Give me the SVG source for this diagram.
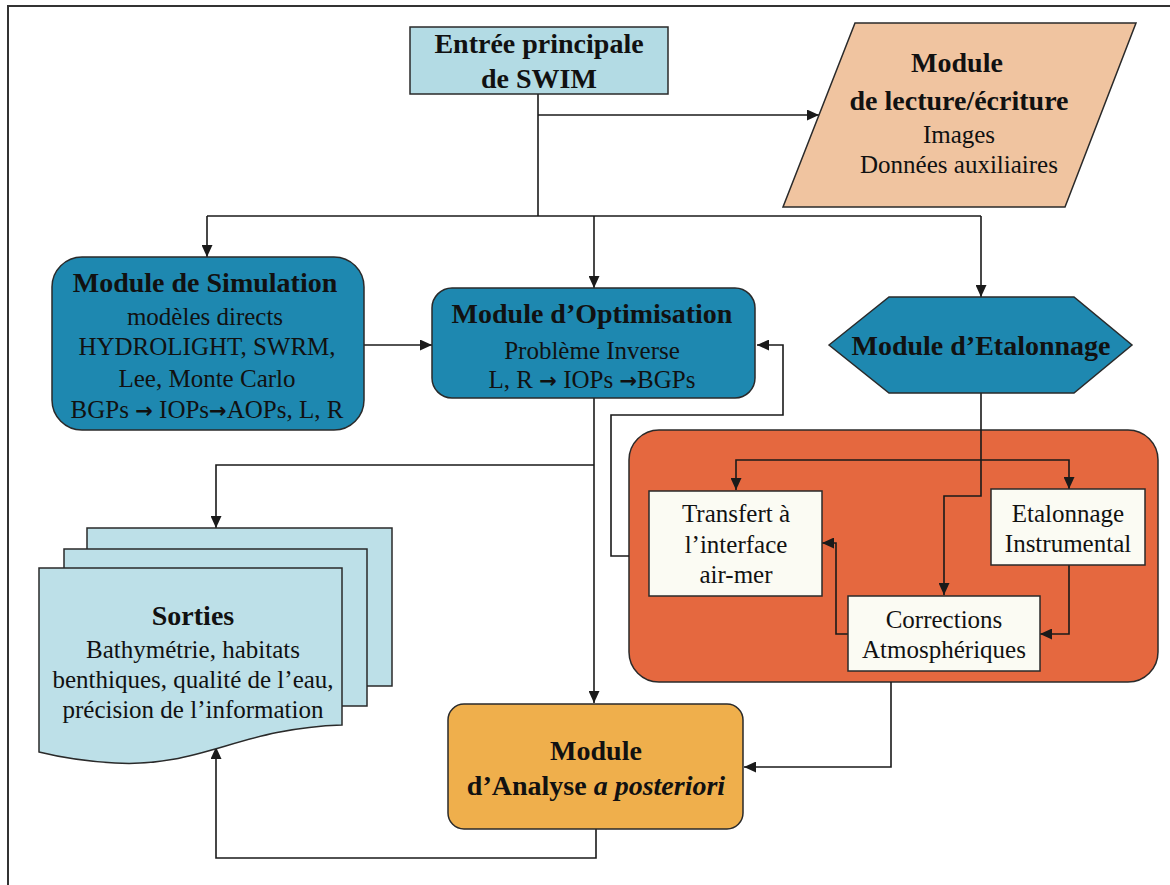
<svg xmlns="http://www.w3.org/2000/svg" width="1170" height="885" viewBox="0 0 1170 885">
<defs>
<marker id="arr" markerUnits="userSpaceOnUse" markerWidth="13" markerHeight="11" refX="12" refY="5.5" orient="auto">
<path d="M0,0 L12,5.5 L0,11 z" fill="#1a1a1a"/>
</marker>
<style>
.box{stroke:#2a2a2a;stroke-width:1.5}
.con{fill:none;stroke:#1a1a1a;stroke-width:1.6}
.arrow{marker-end:url(#arr)}
</style>
</defs>
<rect width="1170" height="885" fill="#ffffff"/>
<path d="M8,885 V6 H1170" fill="none" stroke="#333" stroke-width="2"/>

<g id="container-etalonnage">
<rect class="box" x="629" y="430" width="529" height="252" rx="30" fill="#e5683f"/>
</g>

<g id="connectors">
<path class="con" d="M538,94 V216"/>
<path class="con arrow" d="M538,115 H819"/>
<path class="con" d="M207,216 H981"/>
<path class="con arrow" d="M207,216 V257"/>
<path class="con arrow" d="M594,216 V288"/>
<path class="con arrow" d="M981,216 V297"/>
<path class="con arrow" d="M364,345 H432"/>
<path class="con arrow" d="M594,398 V703"/>
<path class="con arrow" d="M594,465 H216 V528"/>
<path class="con arrow" d="M981,393 V496 H944 V595"/>
<path class="con arrow" d="M981,460 H736 V490"/>
<path class="con arrow" d="M981,460 H1069 V489"/>
<path class="con arrow" d="M1069,565 V634 H1040"/>
<path class="con arrow" d="M848,634 H836 V543 H822"/>
<path class="con arrow" d="M629,556 H611 V415 H783 V345 H757"/>
<path class="con arrow" d="M891,682 V767 H744"/>
<path class="con arrow" d="M596,829 V858 H216 V747"/>
</g>

<g id="entree">
<rect class="box" x="410" y="27" width="258" height="67" fill="#b3dbe4"/>
<text font-family="Liberation Serif" font-size="28" font-weight="bold" text-anchor="middle" fill="#111" x="539" y="53">Entrée principale</text>
<text font-family="Liberation Serif" font-size="28" font-weight="bold" text-anchor="middle" fill="#111" x="539" y="88">de SWIM</text>
</g>

<g id="lecture">
<polygon class="box" points="855,23 1136,23 1065,207 783,207" fill="#f0c4a0"/>
<text font-family="Liberation Serif" font-size="28" font-weight="bold" text-anchor="middle" fill="#111" x="957" y="72">Module</text>
<text font-family="Liberation Serif" font-size="28" font-weight="bold" text-anchor="middle" fill="#111" x="959" y="110">de lecture/écriture</text>
<text font-family="Liberation Serif" font-size="25" text-anchor="middle" fill="#111" x="959" y="143">Images</text>
<text font-family="Liberation Serif" font-size="25" text-anchor="middle" fill="#111" x="959" y="173">Données auxiliaires</text>
</g>

<g id="simulation">
<rect class="box" x="52" y="257" width="312" height="173" rx="30" fill="#1e88b0"/>
<text font-family="Liberation Serif" font-size="28" font-weight="bold" text-anchor="middle" fill="#111" x="205" y="292">Module de Simulation</text>
<text font-family="Liberation Serif" font-size="25" text-anchor="middle" fill="#111" x="205" y="325">modèles directs</text>
<text font-family="Liberation Serif" font-size="25" text-anchor="middle" fill="#111" x="207" y="355">HYDROLIGHT, SWRM,</text>
<text font-family="Liberation Serif" font-size="25" text-anchor="middle" fill="#111" x="207" y="387">Lee, Monte Carlo</text>
<text font-family="Liberation Serif" font-size="25" text-anchor="middle" fill="#111" x="207" y="418">BGPs <tspan font-family="DejaVu Sans" font-weight="bold" font-size="21">→</tspan> IOPs<tspan font-family="DejaVu Sans" font-weight="bold" font-size="21">→</tspan>AOPs, L, R</text>
</g>

<g id="optimisation">
<rect class="box" x="432" y="288" width="323" height="110" rx="20" fill="#1e88b0"/>
<text font-family="Liberation Serif" font-size="28" font-weight="bold" text-anchor="middle" fill="#111" x="592" y="323">Module d’Optimisation</text>
<text font-family="Liberation Serif" font-size="25" text-anchor="middle" fill="#111" x="592" y="359">Problème Inverse</text>
<text font-family="Liberation Serif" font-size="25" text-anchor="middle" fill="#111" x="592" y="388">L, R <tspan font-family="DejaVu Sans" font-weight="bold" font-size="21">→</tspan> IOPs <tspan font-family="DejaVu Sans" font-weight="bold" font-size="21">→</tspan>BGPs</text>
</g>

<g id="etalonnage">
<polygon class="box" points="829,345 889,297 1074,297 1132,345 1074,393 889,393" fill="#1e88b0"/>
<text font-family="Liberation Serif" font-size="28" font-weight="bold" text-anchor="middle" fill="#111" x="981" y="355">Module d’Etalonnage</text>
</g>

<g id="transfert">
<rect class="box" x="649" y="491" width="173" height="105" fill="#fbfbf3"/>
<text font-family="Liberation Serif" font-size="25" text-anchor="middle" fill="#111" x="736" y="522">Transfert à</text>
<text font-family="Liberation Serif" font-size="25" text-anchor="middle" fill="#111" x="736" y="553">l’interface</text>
<text font-family="Liberation Serif" font-size="25" text-anchor="middle" fill="#111" x="736" y="583">air-mer</text>
</g>

<g id="instrumental">
<rect class="box" x="991" y="489" width="154" height="76" fill="#fbfbf3"/>
<text font-family="Liberation Serif" font-size="25" text-anchor="middle" fill="#111" x="1068" y="522">Etalonnage</text>
<text font-family="Liberation Serif" font-size="25" text-anchor="middle" fill="#111" x="1068" y="552">Instrumental</text>
</g>

<g id="corrections">
<rect class="box" x="848" y="596" width="192" height="75" fill="#fbfbf3"/>
<text font-family="Liberation Serif" font-size="25" text-anchor="middle" fill="#111" x="944" y="628">Corrections</text>
<text font-family="Liberation Serif" font-size="25" text-anchor="middle" fill="#111" x="944" y="658">Atmosphériques</text>
</g>

<g id="sorties">
<rect class="box" x="87" y="528" width="305" height="158" fill="#bde0e8"/>
<rect class="box" x="64" y="549" width="303" height="157" fill="#bde0e8"/>
<path class="box" d="M39,568 H342 V725 C240,728 200,768 115,763 C80,761 55,756 39,752 Z" fill="#bde0e8"/>
<text font-family="Liberation Serif" font-size="28" font-weight="bold" text-anchor="middle" fill="#111" x="193" y="625">Sorties</text>
<text font-family="Liberation Serif" font-size="25" text-anchor="middle" fill="#111" x="193" y="658">Bathymétrie, habitats</text>
<text font-family="Liberation Serif" font-size="25" text-anchor="middle" fill="#111" x="193" y="688">benthiques, qualité de l’eau,</text>
<text font-family="Liberation Serif" font-size="25" text-anchor="middle" fill="#111" x="193" y="718">précision de l’information</text>
</g>

<g id="analyse">
<rect class="box" x="448" y="704" width="295" height="125" rx="16" fill="#efaf4c"/>
<text font-family="Liberation Serif" font-size="28" font-weight="bold" text-anchor="middle" fill="#111" x="596" y="760">Module</text>
<text font-family="Liberation Serif" font-size="28" font-weight="bold" text-anchor="middle" fill="#111" x="596" y="795">d’Analyse <tspan font-style="italic">a posteriori</tspan></text>
</g>
</svg>
